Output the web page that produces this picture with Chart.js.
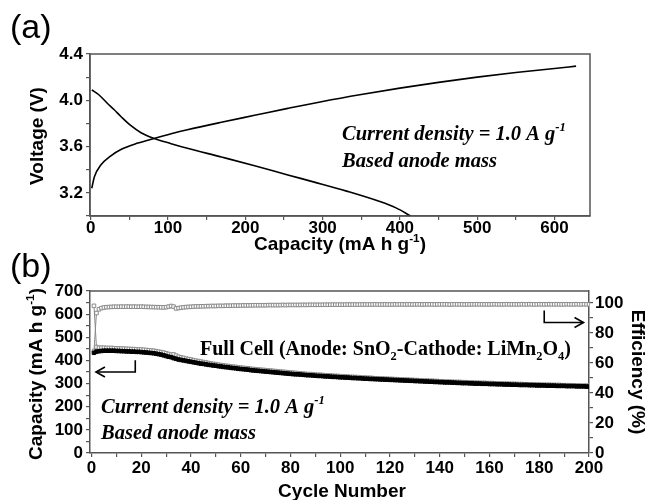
<!DOCTYPE html>
<html>
<head>
<meta charset="utf-8">
<script src="https://cdn.jsdelivr.net/npm/chart.js@4.4.1/dist/chart.umd.min.js"></script>
<style>
  html, body { margin: 0; padding: 0; background: #fff; }
  #wrap { position: relative; width: 649px; height: 500px; overflow: hidden; }
  canvas { position: absolute; left: 0; }
  #chartA { top: 0; }
  #chartB { top: 238px; }
</style>
</head>
<body>
<div id="wrap">
  <canvas id="chartA" width="649" height="262"></canvas>
  <canvas id="chartB" width="649" height="262"></canvas>
</div>
<script>
// ---- (a) voltage profile ----
const chargeCap = [1.3, 4.7, 13, 26, 39, 61, 82, 104, 125, 169, 212, 255, 300, 350, 400, 450, 500, 550, 600, 628];
const chargeV = [3.24, 3.34, 3.44, 3.52, 3.575, 3.63, 3.67, 3.71, 3.745, 3.81, 3.87, 3.93, 3.99, 4.05, 4.105, 4.155, 4.20, 4.24, 4.275, 4.295];
const dischargeCap = [1.3, 10, 22, 30, 39, 52, 65, 82, 104, 125, 169, 212, 255, 288, 331, 374, 395, 414];
const dischargeV = [4.09, 4.05, 3.97, 3.92, 3.86, 3.78, 3.72, 3.67, 3.625, 3.585, 3.51, 3.435, 3.355, 3.295, 3.215, 3.125, 3.07, 3.00];

const capTicks = [0, 50, 100, 150, 200, 250, 300, 350, 400, 450, 500, 550, 600];
const capLabels = [0, 100, 200, 300, 400, 500, 600];
const voltTicks = [3.0, 3.2, 3.4, 3.6, 3.8, 4.0, 4.2, 4.4];
const voltLabels = [3.2, 3.6, 4.0, 4.4];

// ---- (b) cycling ----
const cycles = Array.from({ length: 200 }, (_, i) => i + 1);
const dischargeCapacity = [
  433, 438, 440, 441, 442, 442, 442, 442, 442, 441,
  441, 440, 440, 439, 439, 438, 438, 437, 437, 436,
  435, 434, 433, 432, 431, 429, 427, 425, 422, 419,
  416, 414, 410, 407, 404, 402, 400, 398, 396, 394,
  392, 390, 388, 386, 385, 383, 381, 380, 378, 377,
  375, 374, 372, 371, 370, 368, 367, 366, 364, 363,
  362, 361, 360, 358, 357, 356, 355, 354, 353, 352,
  351, 350, 349, 348, 347, 346, 345, 344, 343, 342,
  341, 340, 340, 339, 338, 337, 336, 336, 335, 334,
  333, 333, 332, 331, 331, 330, 329, 329, 328, 327,
  327, 326, 326, 325, 324, 324, 323, 323, 322, 321,
  321, 320, 320, 319, 319, 318, 318, 317, 317, 316,
  316, 315, 315, 314, 314, 313, 313, 312, 312, 311,
  311, 310, 310, 309, 309, 308, 308, 307, 307, 306,
  306, 305, 305, 305, 304, 304, 303, 303, 302, 302,
  302, 301, 301, 300, 300, 300, 299, 299, 299, 298,
  298, 298, 297, 297, 297, 296, 296, 296, 295, 295,
  295, 294, 294, 294, 294, 293, 293, 293, 292, 292,
  292, 292, 291, 291, 291, 291, 290, 290, 290, 290,
  289, 289, 289, 289, 288, 288, 288, 288, 287, 287
];
const chargeCapacity = [
  636, 458, 455, 455, 455, 454, 454, 454, 453, 452,
  452, 451, 451, 450, 450, 449, 449, 448, 447, 447,
  446, 445, 444, 443, 442, 440, 438, 436, 434, 431,
  428, 425, 426, 421, 416, 413, 411, 408, 406, 404,
  401, 399, 397, 395, 393, 391, 389, 387, 385, 384,
  382, 380, 379, 377, 376, 374, 373, 372, 370, 369,
  368, 367, 366, 364, 363, 362, 361, 360, 359, 358,
  357, 356, 355, 354, 353, 352, 351, 350, 349, 348,
  347, 346, 345, 344, 343, 342, 341, 341, 340, 339,
  338, 338, 337, 336, 336, 335, 334, 333, 333, 332,
  331, 331, 330, 329, 329, 328, 328, 327, 326, 326,
  325, 325, 324, 323, 323, 322, 322, 321, 321, 320,
  320, 319, 319, 318, 318, 317, 317, 316, 316, 315,
  315, 314, 314, 313, 313, 312, 312, 311, 311, 310,
  310, 309, 309, 308, 308, 307, 307, 307, 306, 306,
  305, 305, 305, 304, 304, 303, 303, 303, 302, 302,
  302, 301, 301, 301, 300, 300, 300, 299, 299, 299,
  298, 298, 298, 297, 297, 297, 297, 296, 296, 296,
  295, 295, 295, 295, 294, 294, 294, 294, 293, 293,
  293, 293, 292, 292, 292, 292, 291, 291, 291, 291
];
const efficiency = [
  68.0, 93.3, 95.8, 96.6, 97.0, 97.2, 97.3, 97.4, 97.5, 97.5,
  97.5, 97.6, 97.5, 97.6, 97.6, 97.5, 97.6, 97.5, 97.5, 97.6,
  97.5, 97.4, 97.4, 97.3, 97.3, 97.2, 97.2, 97.1, 97.1, 97.2,
  97.6, 98.0, 97.6, 96.4, 96.6, 96.9, 97.1, 97.3, 97.4, 97.5,
  97.6, 97.7, 97.7, 97.8, 97.8, 97.9, 97.9, 98.0, 98.0, 98.0,
  98.1, 98.1, 98.1, 98.2, 98.2, 98.2, 98.3, 98.3, 98.3, 98.3,
  98.4, 98.4, 98.4, 98.4, 98.5, 98.5, 98.5, 98.5, 98.5, 98.5,
  98.6, 98.6, 98.6, 98.6, 98.6, 98.6, 98.7, 98.6, 98.7, 98.7,
  98.7, 98.7, 98.7, 98.7, 98.8, 98.7, 98.8, 98.8, 98.8, 98.8,
  98.8, 98.8, 98.8, 98.9, 98.8, 98.9, 98.9, 98.9, 98.9, 98.9,
  98.9, 98.9, 99.0, 98.9, 99.0, 99.0, 98.9, 99.0, 99.0, 99.0,
  99.0, 99.0, 99.0, 99.1, 99.0, 99.0, 99.0, 99.1, 99.0, 99.0,
  99.0, 99.1, 99.0, 99.1, 99.1, 99.0, 99.1, 99.1, 99.0, 99.1,
  99.1, 99.1, 99.0, 99.1, 99.1, 99.1, 99.1, 99.0, 99.1, 99.1,
  99.1, 99.1, 99.1, 99.0, 99.1, 99.1, 99.1, 99.1, 99.1, 99.0,
  99.1, 99.1, 99.1, 99.1, 99.2, 99.1, 99.1, 99.1, 99.1, 99.1,
  99.1, 99.2, 99.1, 99.1, 99.1, 99.1, 99.2, 99.1, 99.1, 99.1,
  99.1, 99.1, 99.2, 99.1, 99.1, 99.2, 99.1, 99.1, 99.1, 99.2,
  99.1, 99.1, 99.1, 99.2, 99.1, 99.1, 99.2, 99.1, 99.1, 99.1,
  99.2, 99.1, 99.1, 99.1, 99.2, 99.1, 99.1, 99.2, 99.1, 99.1
];

const cycleTicks = [0, 10, 20, 30, 40, 50, 60, 70, 80, 90, 100, 110, 120, 130, 140, 150, 160, 170, 180, 190, 200];
const cycleLabels = [0, 20, 40, 60, 80, 100, 120, 140, 160, 180, 200];
const capBTicks = [0, 50, 100, 150, 200, 250, 300, 350, 400, 450, 500, 550, 600, 650, 700];
const capBLabels = [0, 100, 200, 300, 400, 500, 600, 700];
const effTicks = [0, 10, 20, 30, 40, 50, 60, 70, 80, 90, 100];
const effLabels = [0, 20, 40, 60, 80, 100];

const AXIS = '#555';
const GREY = '#8a8a8a';
const SANS = '"Liberation Sans", Arial, sans-serif';
const SERIF = '"Liberation Serif", "Times New Roman", serif';

Chart.defaults.font.family = SANS;
Chart.defaults.color = '#000';

const tickFont = { family: SANS, size: 17, weight: 'bold' };

function fixedBox(size) {
  return s => {
    if (s.isHorizontal()) s.height = size; else s.width = size;
    s.paddingTop = s.paddingBottom = s.paddingLeft = s.paddingRight = 0;
  };
}
function setTicks(list) {
  return s => { s.ticks = list.map(v => ({ value: v })); };
}
function hasLabel(list, v) {
  return list.some(l => Math.abs(l - v) < 1e-6);
}
function axis(min, max, list, labels, fmt, box, pad, extra) {
  return Object.assign({
    type: 'linear', min, max,
    afterBuildTicks: setTicks(list),
    afterFit: fixedBox(box),
    grid: { drawOnChartArea: false, tickLength: 4, color: AXIS, lineWidth: 1.2 },
    border: { color: AXIS, width: 1.5 },
    ticks: {
      autoSkip: false, maxRotation: 0, padding: pad, font: tickFont, color: '#000',
      callback: v => hasLabel(labels, v) ? fmt(v) : ''
    }
  }, extra || {});
}

// text with super/subscripts, parts = [[text, 'sup'|'sub'|undefined], ...]
function richText(ctx, parts, x, y, o) {
  const small = o.size * 0.62;
  const font = p => `${o.style} ${p[1] ? small : o.size}px ${o.family}`;
  let w = 0;
  parts.forEach(p => { ctx.font = font(p); w += ctx.measureText(p[0]).width; });
  let cx = o.align === 'center' ? x - w / 2 : x;
  ctx.textAlign = 'left';
  ctx.textBaseline = 'alphabetic';
  ctx.fillStyle = '#000';
  parts.forEach(p => {
    ctx.font = font(p);
    const dy = p[1] === 'sup' ? -o.size * 0.42 : p[1] === 'sub' ? o.size * 0.24 : 0;
    ctx.fillText(p[0], cx, y + dy);
    cx += ctx.measureText(p[0]).width;
  });
}
function rotatedText(ctx, parts, x, y, angle, o) {
  ctx.save();
  ctx.translate(x, y);
  ctx.rotate(angle);
  richText(ctx, parts, 0, 0, o);
  ctx.restore();
}

const titleStyle = { style: 'bold', size: 19, family: SANS, align: 'center' };
const noteStyle = { style: 'italic bold', size: 20.5, family: SERIF, align: 'left' };
const cellStyle = { style: 'bold', size: 20, family: SERIF, align: 'left' };
const densityText = [['Current density = 1.0 A g'], ['-1', 'sup']];

const panelA = {
  id: 'panelA',
  afterDraw(chart) {
    const { ctx, chartArea: a } = chart;
    ctx.save();
    ctx.strokeStyle = AXIS;
    ctx.lineWidth = 1.5;
    ctx.strokeRect(a.left, a.top, a.right - a.left, a.bottom - a.top);

    ctx.font = `34px ${SANS}`;
    ctx.fillStyle = '#000';
    ctx.textAlign = 'left';
    ctx.textBaseline = 'alphabetic';
    ctx.fillText('(a)', 10, 38);

    richText(ctx, [['Capacity (mA h g'], ['-1', 'sup'], [')']], 340, 250, titleStyle);
    rotatedText(ctx, [['Voltage (V)']], 43, 136, -Math.PI / 2, titleStyle);

    richText(ctx, densityText, 342, 140, noteStyle);
    richText(ctx, [['Based anode mass']], 342, 167, noteStyle);
    ctx.restore();
  }
};

function arrow(ctx, pts, dir) {
  ctx.beginPath();
  ctx.moveTo(pts[0][0], pts[0][1]);
  pts.slice(1).forEach(p => ctx.lineTo(p[0], p[1]));
  ctx.stroke();
  const [hx, hy] = pts[pts.length - 1];
  ctx.beginPath();
  ctx.moveTo(hx - dir * 9, hy - 5);
  ctx.lineTo(hx, hy);
  ctx.lineTo(hx - dir * 9, hy + 5);
  ctx.stroke();
}

const panelB = {
  id: 'panelB',
  afterDraw(chart) {
    const { ctx, chartArea: a, scales } = chart;
    const x = scales.x, y = scales.y, y2 = scales.y2;
    ctx.save();
    ctx.strokeStyle = AXIS;
    ctx.lineWidth = 1.5;
    ctx.beginPath();
    ctx.moveTo(a.left, a.top);
    ctx.lineTo(a.right, a.top);
    ctx.stroke();

    ctx.font = `34px ${SANS}`;
    ctx.fillStyle = '#000';
    ctx.textAlign = 'left';
    ctx.textBaseline = 'alphabetic';
    ctx.fillText('(b)', 10, 39);

    richText(ctx, [['Cycle Number']], 342, 259, titleStyle);
    rotatedText(ctx, [['Capacity (mA h g'], ['-1', 'sup'], [')']], 42, 136, -Math.PI / 2, titleStyle);
    rotatedText(ctx, [['Efficiency (%)']], 632, 134, Math.PI / 2, titleStyle);

    richText(ctx, [['Full Cell (Anode: SnO'], ['2', 'sub'], ['-Cathode: LiMn'], ['2', 'sub'], ['O'], ['4', 'sub'], [')']], 200, 117, cellStyle);
    richText(ctx, densityText, 101, 175, noteStyle);
    richText(ctx, [['Based anode mass']], 101, 201, noteStyle);

    // axis pointers
    ctx.strokeStyle = '#000';
    ctx.lineWidth = 1.6;
    arrow(ctx, [
      [x.getPixelForValue(17.6), y.getPixelForValue(401)],
      [x.getPixelForValue(17.6), y.getPixelForValue(350)],
      [x.getPixelForValue(1.8), y.getPixelForValue(350)]
    ], -1);
    arrow(ctx, [
      [x.getPixelForValue(182), y2.getPixelForValue(95)],
      [x.getPixelForValue(182), y2.getPixelForValue(87)],
      [x.getPixelForValue(197.8), y2.getPixelForValue(87)]
    ], 1);
    ctx.restore();
  }
};

new Chart(document.getElementById('chartA'), {
  type: 'line',
  data: {
    datasets: [
      {
        data: chargeCap.map((c, i) => ({ x: c, y: chargeV[i] })),
        borderColor: '#000', borderWidth: 1.6, pointRadius: 0, cubicInterpolationMode: 'monotone'
      },
      {
        data: dischargeCap.map((c, i) => ({ x: c, y: dischargeV[i] })),
        borderColor: '#000', borderWidth: 1.6, pointRadius: 0, cubicInterpolationMode: 'monotone'
      }
    ]
  },
  options: {
    responsive: false,
    animation: false,
    events: [],
    layout: { padding: { left: 0, top: 54, right: 59, bottom: 0 } },
    plugins: { legend: { display: false }, tooltip: { enabled: false } },
    scales: {
      x: axis(-1, 646, capTicks, capLabels, v => String(v), 46, -2),
      y: axis(3.0, 4.4, voltTicks, voltLabels, v => v.toFixed(1), 90, 3)
    }
  },
  plugins: [panelA]
});

const squares = { pointStyle: 'rect', pointRadius: 2.5, pointBorderWidth: 1, tension: 0 };

new Chart(document.getElementById('chartB'), {
  type: 'line',
  data: {
    datasets: [
      Object.assign({
        label: 'Discharge',
        data: dischargeCapacity.map((v, i) => ({ x: cycles[i], y: v })),
        yAxisID: 'y',
        borderColor: '#000', borderWidth: 2,
        pointBackgroundColor: '#000', pointBorderColor: '#000'
      }, squares),
      Object.assign({
        label: 'Charge',
        data: chargeCapacity.map((v, i) => ({ x: cycles[i], y: v })),
        yAxisID: 'y',
        borderColor: GREY, borderWidth: 1,
        pointBackgroundColor: '#fff', pointBorderColor: GREY
      }, squares),
      Object.assign({
        label: 'Efficiency',
        data: efficiency.map((v, i) => ({ x: cycles[i], y: v })),
        yAxisID: 'y2',
        borderColor: GREY, borderWidth: 1,
        pointBackgroundColor: '#fff', pointBorderColor: GREY
      }, squares)
    ]
  },
  options: {
    responsive: false,
    animation: false,
    events: [],
    layout: { padding: { left: 0, top: 53, right: 0, bottom: 0 } },
    plugins: { legend: { display: false }, tooltip: { enabled: false } },
    scales: {
      x: axis(-0.6, 200, cycleTicks, cycleLabels, v => String(v), 47, 1),
      y: axis(0, 700, capBTicks, capBLabels, v => String(v), 90, 3, { position: 'left' }),
      y2: axis(0, 108, effTicks, effLabels, v => String(v), 60, 2, { position: 'right' })
    }
  },
  plugins: [panelB]
});
</script>
</body>
</html>
